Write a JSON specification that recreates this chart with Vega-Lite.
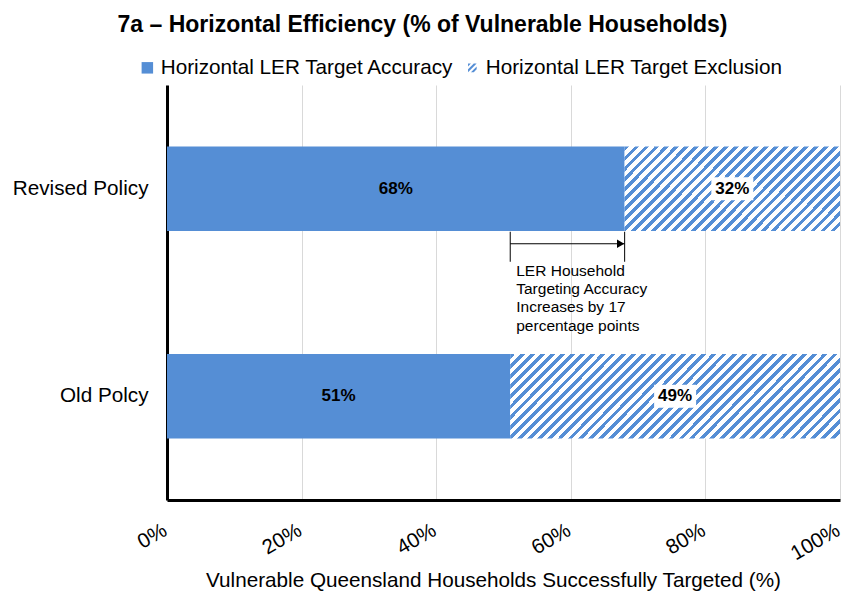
{
  "$schema": "https://vega.github.io/schema/vega-lite/v6.json",
  "width": 673,
  "height": 415,
  "autosize": {"type": "none"},
  "padding": {"left": 167, "top": 85, "right": 5, "bottom": 94},
  "background": "white",
  "config": {
    "font": "Liberation Sans",
    "view": {"stroke": null},
    "axis": {"labelFont": "Liberation Sans", "titleFont": "Liberation Sans"},
    "legend": {"labelFont": "Liberation Sans"}
  },
  "title": {
    "text": "7a – Horizontal Efficiency (% of Vulnerable Households)",
    "font": "Liberation Sans",
    "fontSize": 23,
    "fontWeight": "bold",
    "color": "black",
    "anchor": "middle",
    "frame": "group",
    "dx": -81,
    "offset": 20
  },
  "datasets": {
    "bars": [
      {"policy": "Revised Policy", "category": "Horizontal LER Target Accuracy", "value": 0.68},
      {"policy": "Revised Policy", "category": "Horizontal LER Target Exclusion", "value": 0.32},
      {"policy": "Old Polcy", "category": "Horizontal LER Target Accuracy", "value": 0.51},
      {"policy": "Old Polcy", "category": "Horizontal LER Target Exclusion", "value": 0.49}
    ],
    "note": [
      {"policy": "Revised Policy", "from": 0.51, "to": 0.68, "note": "LER Household\nTargeting Accuracy\nIncreases by 17\npercentage points"}
    ]
  },
  "data": {"name": "bars"},
  "encoding": {
    "y": {
      "field": "policy",
      "type": "nominal",
      "sort": ["Revised Policy", "Old Polcy"],
      "scale": {"paddingInner": 0.592, "paddingOuter": 0.296},
      "axis": {
        "title": null,
        "domainColor": "black",
        "domainWidth": 3,
        "ticks": false,
        "labelFontSize": 20.7,
        "labelColor": "black",
        "labelPadding": 19
      }
    }
  },
  "layer": [
    {
      "transform": [{"filter": "datum.category === 'Horizontal LER Target Accuracy'"}],
      "mark": {"type": "bar", "color": "#558ed5"},
      "encoding": {
        "x": {
          "field": "value",
          "type": "quantitative",
          "scale": {"domain": [0, 1], "nice": false},
          "axis": {
            "values": [0, 0.2, 0.4, 0.6, 0.8, 1],
            "format": ".0%",
            "grid": true,
            "gridColor": "#d9d9d9",
            "gridWidth": 1,
            "domainColor": "black",
            "domainWidth": 3,
            "ticks": false,
            "labelAngle": -30,
            "labelFontSize": 20.7,
            "labelColor": "black",
            "labelPadding": 20,
            "labelOffset": -7,
            "labelOverlap": false,
            "labelBound": false,
            "labelFlush": false,
            "title": "Vulnerable Queensland Households Successfully Targeted (%)",
            "titleFontSize": 20.7,
            "titleFontWeight": "normal",
            "titleColor": "black",
            "titleX": 326,
            "titleY": 80,
            "titleBaseline": "middle",
            "titleAlign": "center"
          }
        }
      }
    },
    {
      "mark": {"type": "point", "filled": true, "color": "#558ed5", "opacity": 0},
      "encoding": {
        "x": {"field": "value", "type": "quantitative"},
        "shape": {
          "field": "category",
          "type": "nominal",
          "scale": {
            "domain": ["Horizontal LER Target Accuracy", "Horizontal LER Target Exclusion"],
            "range": ["square", "M-0.75,-0.75L-0.25,-0.75L-0.75,-0.25Z M0.25,-0.75L0.75,-0.75L-0.75,0.75L-0.75,0.25Z M0.75,-0.25L0.75,0.25L0.25,0.75L-0.25,0.75Z"]
          },
          "legend": {
            "orient": "none",
            "legendX": -30,
            "legendY": -28,
            "direction": "horizontal",
            "title": null,
            "labelFontSize": 20.7,
            "labelColor": "black",
            "labelLimit": 0,
            "symbolSize": 132,
            "symbolOpacity": 1,
            "symbolFillColor": "#558ed5",
            "symbolStrokeWidth": 0,
            "labelOffset": 3,
            "columnPadding": 8,
            "padding": 0
          }
        }
      }
    },
    {
      "transform": [
        {"stack": "value", "groupby": ["policy"], "sort": [{"field": "category"}], "as": ["x0", "x1"]},
        {"filter": "datum.category === 'Horizontal LER Target Exclusion' && datum.policy === 'Revised Policy'"}
      ],
      "mark": {
        "type": "bar",
        "fill": {"gradient": "linear", "x1": 0, "y1": 0, "x2": 1.2065, "y2": 0.4705, "stops": [
          {"offset": 0, "color": "#558ed5"}, {"offset": 0.016, "color": "#558ed5"}, {"offset": 0.016, "color": "#ffffff"}, {"offset": 0.0333, "color": "#ffffff"},
          {"offset": 0.0333, "color": "#558ed5"}, {"offset": 0.0493, "color": "#558ed5"}, {"offset": 0.0493, "color": "#ffffff"}, {"offset": 0.0667, "color": "#ffffff"},
          {"offset": 0.0667, "color": "#558ed5"}, {"offset": 0.0827, "color": "#558ed5"}, {"offset": 0.0827, "color": "#ffffff"}, {"offset": 0.1, "color": "#ffffff"},
          {"offset": 0.1, "color": "#558ed5"}, {"offset": 0.116, "color": "#558ed5"}, {"offset": 0.116, "color": "#ffffff"}, {"offset": 0.1333, "color": "#ffffff"},
          {"offset": 0.1333, "color": "#558ed5"}, {"offset": 0.1493, "color": "#558ed5"}, {"offset": 0.1493, "color": "#ffffff"}, {"offset": 0.1667, "color": "#ffffff"},
          {"offset": 0.1667, "color": "#558ed5"}, {"offset": 0.1827, "color": "#558ed5"}, {"offset": 0.1827, "color": "#ffffff"}, {"offset": 0.2, "color": "#ffffff"},
          {"offset": 0.2, "color": "#558ed5"}, {"offset": 0.216, "color": "#558ed5"}, {"offset": 0.216, "color": "#ffffff"}, {"offset": 0.2333, "color": "#ffffff"},
          {"offset": 0.2333, "color": "#558ed5"}, {"offset": 0.2493, "color": "#558ed5"}, {"offset": 0.2493, "color": "#ffffff"}, {"offset": 0.2667, "color": "#ffffff"},
          {"offset": 0.2667, "color": "#558ed5"}, {"offset": 0.2827, "color": "#558ed5"}, {"offset": 0.2827, "color": "#ffffff"}, {"offset": 0.3, "color": "#ffffff"},
          {"offset": 0.3, "color": "#558ed5"}, {"offset": 0.316, "color": "#558ed5"}, {"offset": 0.316, "color": "#ffffff"}, {"offset": 0.3333, "color": "#ffffff"},
          {"offset": 0.3333, "color": "#558ed5"}, {"offset": 0.3493, "color": "#558ed5"}, {"offset": 0.3493, "color": "#ffffff"}, {"offset": 0.3667, "color": "#ffffff"},
          {"offset": 0.3667, "color": "#558ed5"}, {"offset": 0.3827, "color": "#558ed5"}, {"offset": 0.3827, "color": "#ffffff"}, {"offset": 0.4, "color": "#ffffff"},
          {"offset": 0.4, "color": "#558ed5"}, {"offset": 0.416, "color": "#558ed5"}, {"offset": 0.416, "color": "#ffffff"}, {"offset": 0.4333, "color": "#ffffff"},
          {"offset": 0.4333, "color": "#558ed5"}, {"offset": 0.4493, "color": "#558ed5"}, {"offset": 0.4493, "color": "#ffffff"}, {"offset": 0.4667, "color": "#ffffff"},
          {"offset": 0.4667, "color": "#558ed5"}, {"offset": 0.4827, "color": "#558ed5"}, {"offset": 0.4827, "color": "#ffffff"}, {"offset": 0.5, "color": "#ffffff"},
          {"offset": 0.5, "color": "#558ed5"}, {"offset": 0.516, "color": "#558ed5"}, {"offset": 0.516, "color": "#ffffff"}, {"offset": 0.5333, "color": "#ffffff"},
          {"offset": 0.5333, "color": "#558ed5"}, {"offset": 0.5493, "color": "#558ed5"}, {"offset": 0.5493, "color": "#ffffff"}, {"offset": 0.5667, "color": "#ffffff"},
          {"offset": 0.5667, "color": "#558ed5"}, {"offset": 0.5827, "color": "#558ed5"}, {"offset": 0.5827, "color": "#ffffff"}, {"offset": 0.6, "color": "#ffffff"},
          {"offset": 0.6, "color": "#558ed5"}, {"offset": 0.616, "color": "#558ed5"}, {"offset": 0.616, "color": "#ffffff"}, {"offset": 0.6333, "color": "#ffffff"},
          {"offset": 0.6333, "color": "#558ed5"}, {"offset": 0.6493, "color": "#558ed5"}, {"offset": 0.6493, "color": "#ffffff"}, {"offset": 0.6667, "color": "#ffffff"},
          {"offset": 0.6667, "color": "#558ed5"}, {"offset": 0.6827, "color": "#558ed5"}, {"offset": 0.6827, "color": "#ffffff"}, {"offset": 0.7, "color": "#ffffff"},
          {"offset": 0.7, "color": "#558ed5"}, {"offset": 0.716, "color": "#558ed5"}, {"offset": 0.716, "color": "#ffffff"}, {"offset": 0.7333, "color": "#ffffff"},
          {"offset": 0.7333, "color": "#558ed5"}, {"offset": 0.7493, "color": "#558ed5"}, {"offset": 0.7493, "color": "#ffffff"}, {"offset": 0.7667, "color": "#ffffff"},
          {"offset": 0.7667, "color": "#558ed5"}, {"offset": 0.7827, "color": "#558ed5"}, {"offset": 0.7827, "color": "#ffffff"}, {"offset": 0.8, "color": "#ffffff"},
          {"offset": 0.8, "color": "#558ed5"}, {"offset": 0.816, "color": "#558ed5"}, {"offset": 0.816, "color": "#ffffff"}, {"offset": 0.8333, "color": "#ffffff"},
          {"offset": 0.8333, "color": "#558ed5"}, {"offset": 0.8493, "color": "#558ed5"}, {"offset": 0.8493, "color": "#ffffff"}, {"offset": 0.8667, "color": "#ffffff"},
          {"offset": 0.8667, "color": "#558ed5"}, {"offset": 0.8827, "color": "#558ed5"}, {"offset": 0.8827, "color": "#ffffff"}, {"offset": 0.9, "color": "#ffffff"},
          {"offset": 0.9, "color": "#558ed5"}, {"offset": 0.916, "color": "#558ed5"}, {"offset": 0.916, "color": "#ffffff"}, {"offset": 0.9333, "color": "#ffffff"},
          {"offset": 0.9333, "color": "#558ed5"}, {"offset": 0.9493, "color": "#558ed5"}, {"offset": 0.9493, "color": "#ffffff"}, {"offset": 0.9667, "color": "#ffffff"},
          {"offset": 0.9667, "color": "#558ed5"}, {"offset": 0.9827, "color": "#558ed5"}, {"offset": 0.9827, "color": "#ffffff"}, {"offset": 1, "color": "#ffffff"}
        ]}
      },
      "encoding": {
        "x": {"field": "x0", "type": "quantitative"},
        "x2": {"field": "x1"}
      }
    },
    {
      "transform": [
        {"stack": "value", "groupby": ["policy"], "sort": [{"field": "category"}], "as": ["x0", "x1"]},
        {"filter": "datum.category === 'Horizontal LER Target Exclusion' && datum.policy === 'Old Polcy'"}
      ],
      "mark": {
        "type": "bar",
        "fill": {"gradient": "linear", "x1": 0, "y1": 0, "x2": 1.1782, "y2": 0.3001, "stops": [
          {"offset": 0, "color": "#558ed5"}, {"offset": 0.0117, "color": "#558ed5"}, {"offset": 0.0117, "color": "#ffffff"}, {"offset": 0.0244, "color": "#ffffff"},
          {"offset": 0.0244, "color": "#558ed5"}, {"offset": 0.0361, "color": "#558ed5"}, {"offset": 0.0361, "color": "#ffffff"}, {"offset": 0.0488, "color": "#ffffff"},
          {"offset": 0.0488, "color": "#558ed5"}, {"offset": 0.0605, "color": "#558ed5"}, {"offset": 0.0605, "color": "#ffffff"}, {"offset": 0.0732, "color": "#ffffff"},
          {"offset": 0.0732, "color": "#558ed5"}, {"offset": 0.0849, "color": "#558ed5"}, {"offset": 0.0849, "color": "#ffffff"}, {"offset": 0.0976, "color": "#ffffff"},
          {"offset": 0.0976, "color": "#558ed5"}, {"offset": 0.1093, "color": "#558ed5"}, {"offset": 0.1093, "color": "#ffffff"}, {"offset": 0.122, "color": "#ffffff"},
          {"offset": 0.122, "color": "#558ed5"}, {"offset": 0.1337, "color": "#558ed5"}, {"offset": 0.1337, "color": "#ffffff"}, {"offset": 0.1463, "color": "#ffffff"},
          {"offset": 0.1463, "color": "#558ed5"}, {"offset": 0.158, "color": "#558ed5"}, {"offset": 0.158, "color": "#ffffff"}, {"offset": 0.1707, "color": "#ffffff"},
          {"offset": 0.1707, "color": "#558ed5"}, {"offset": 0.1824, "color": "#558ed5"}, {"offset": 0.1824, "color": "#ffffff"}, {"offset": 0.1951, "color": "#ffffff"},
          {"offset": 0.1951, "color": "#558ed5"}, {"offset": 0.2068, "color": "#558ed5"}, {"offset": 0.2068, "color": "#ffffff"}, {"offset": 0.2195, "color": "#ffffff"},
          {"offset": 0.2195, "color": "#558ed5"}, {"offset": 0.2312, "color": "#558ed5"}, {"offset": 0.2312, "color": "#ffffff"}, {"offset": 0.2439, "color": "#ffffff"},
          {"offset": 0.2439, "color": "#558ed5"}, {"offset": 0.2556, "color": "#558ed5"}, {"offset": 0.2556, "color": "#ffffff"}, {"offset": 0.2683, "color": "#ffffff"},
          {"offset": 0.2683, "color": "#558ed5"}, {"offset": 0.28, "color": "#558ed5"}, {"offset": 0.28, "color": "#ffffff"}, {"offset": 0.2927, "color": "#ffffff"},
          {"offset": 0.2927, "color": "#558ed5"}, {"offset": 0.3044, "color": "#558ed5"}, {"offset": 0.3044, "color": "#ffffff"}, {"offset": 0.3171, "color": "#ffffff"},
          {"offset": 0.3171, "color": "#558ed5"}, {"offset": 0.3288, "color": "#558ed5"}, {"offset": 0.3288, "color": "#ffffff"}, {"offset": 0.3415, "color": "#ffffff"},
          {"offset": 0.3415, "color": "#558ed5"}, {"offset": 0.3532, "color": "#558ed5"}, {"offset": 0.3532, "color": "#ffffff"}, {"offset": 0.3659, "color": "#ffffff"},
          {"offset": 0.3659, "color": "#558ed5"}, {"offset": 0.3776, "color": "#558ed5"}, {"offset": 0.3776, "color": "#ffffff"}, {"offset": 0.3902, "color": "#ffffff"},
          {"offset": 0.3902, "color": "#558ed5"}, {"offset": 0.4019, "color": "#558ed5"}, {"offset": 0.4019, "color": "#ffffff"}, {"offset": 0.4146, "color": "#ffffff"},
          {"offset": 0.4146, "color": "#558ed5"}, {"offset": 0.4263, "color": "#558ed5"}, {"offset": 0.4263, "color": "#ffffff"}, {"offset": 0.439, "color": "#ffffff"},
          {"offset": 0.439, "color": "#558ed5"}, {"offset": 0.4507, "color": "#558ed5"}, {"offset": 0.4507, "color": "#ffffff"}, {"offset": 0.4634, "color": "#ffffff"},
          {"offset": 0.4634, "color": "#558ed5"}, {"offset": 0.4751, "color": "#558ed5"}, {"offset": 0.4751, "color": "#ffffff"}, {"offset": 0.4878, "color": "#ffffff"},
          {"offset": 0.4878, "color": "#558ed5"}, {"offset": 0.4995, "color": "#558ed5"}, {"offset": 0.4995, "color": "#ffffff"}, {"offset": 0.5122, "color": "#ffffff"},
          {"offset": 0.5122, "color": "#558ed5"}, {"offset": 0.5239, "color": "#558ed5"}, {"offset": 0.5239, "color": "#ffffff"}, {"offset": 0.5366, "color": "#ffffff"},
          {"offset": 0.5366, "color": "#558ed5"}, {"offset": 0.5483, "color": "#558ed5"}, {"offset": 0.5483, "color": "#ffffff"}, {"offset": 0.561, "color": "#ffffff"},
          {"offset": 0.561, "color": "#558ed5"}, {"offset": 0.5727, "color": "#558ed5"}, {"offset": 0.5727, "color": "#ffffff"}, {"offset": 0.5854, "color": "#ffffff"},
          {"offset": 0.5854, "color": "#558ed5"}, {"offset": 0.5971, "color": "#558ed5"}, {"offset": 0.5971, "color": "#ffffff"}, {"offset": 0.6098, "color": "#ffffff"},
          {"offset": 0.6098, "color": "#558ed5"}, {"offset": 0.6215, "color": "#558ed5"}, {"offset": 0.6215, "color": "#ffffff"}, {"offset": 0.6341, "color": "#ffffff"},
          {"offset": 0.6341, "color": "#558ed5"}, {"offset": 0.6458, "color": "#558ed5"}, {"offset": 0.6458, "color": "#ffffff"}, {"offset": 0.6585, "color": "#ffffff"},
          {"offset": 0.6585, "color": "#558ed5"}, {"offset": 0.6702, "color": "#558ed5"}, {"offset": 0.6702, "color": "#ffffff"}, {"offset": 0.6829, "color": "#ffffff"},
          {"offset": 0.6829, "color": "#558ed5"}, {"offset": 0.6946, "color": "#558ed5"}, {"offset": 0.6946, "color": "#ffffff"}, {"offset": 0.7073, "color": "#ffffff"},
          {"offset": 0.7073, "color": "#558ed5"}, {"offset": 0.719, "color": "#558ed5"}, {"offset": 0.719, "color": "#ffffff"}, {"offset": 0.7317, "color": "#ffffff"},
          {"offset": 0.7317, "color": "#558ed5"}, {"offset": 0.7434, "color": "#558ed5"}, {"offset": 0.7434, "color": "#ffffff"}, {"offset": 0.7561, "color": "#ffffff"},
          {"offset": 0.7561, "color": "#558ed5"}, {"offset": 0.7678, "color": "#558ed5"}, {"offset": 0.7678, "color": "#ffffff"}, {"offset": 0.7805, "color": "#ffffff"},
          {"offset": 0.7805, "color": "#558ed5"}, {"offset": 0.7922, "color": "#558ed5"}, {"offset": 0.7922, "color": "#ffffff"}, {"offset": 0.8049, "color": "#ffffff"},
          {"offset": 0.8049, "color": "#558ed5"}, {"offset": 0.8166, "color": "#558ed5"}, {"offset": 0.8166, "color": "#ffffff"}, {"offset": 0.8293, "color": "#ffffff"},
          {"offset": 0.8293, "color": "#558ed5"}, {"offset": 0.841, "color": "#558ed5"}, {"offset": 0.841, "color": "#ffffff"}, {"offset": 0.8537, "color": "#ffffff"},
          {"offset": 0.8537, "color": "#558ed5"}, {"offset": 0.8654, "color": "#558ed5"}, {"offset": 0.8654, "color": "#ffffff"}, {"offset": 0.878, "color": "#ffffff"},
          {"offset": 0.878, "color": "#558ed5"}, {"offset": 0.8897, "color": "#558ed5"}, {"offset": 0.8897, "color": "#ffffff"}, {"offset": 0.9024, "color": "#ffffff"},
          {"offset": 0.9024, "color": "#558ed5"}, {"offset": 0.9141, "color": "#558ed5"}, {"offset": 0.9141, "color": "#ffffff"}, {"offset": 0.9268, "color": "#ffffff"},
          {"offset": 0.9268, "color": "#558ed5"}, {"offset": 0.9385, "color": "#558ed5"}, {"offset": 0.9385, "color": "#ffffff"}, {"offset": 0.9512, "color": "#ffffff"},
          {"offset": 0.9512, "color": "#558ed5"}, {"offset": 0.9629, "color": "#558ed5"}, {"offset": 0.9629, "color": "#ffffff"}, {"offset": 0.9756, "color": "#ffffff"},
          {"offset": 0.9756, "color": "#558ed5"}, {"offset": 0.9873, "color": "#558ed5"}, {"offset": 0.9873, "color": "#ffffff"}, {"offset": 1, "color": "#ffffff"}
        ]}
      },
      "encoding": {
        "x": {"field": "x0", "type": "quantitative"},
        "x2": {"field": "x1"}
      }
    },
    {
      "transform": [
        {"stack": "value", "groupby": ["policy"], "sort": [{"field": "category"}], "as": ["x0", "x1"]},
        {"filter": "datum.category === 'Horizontal LER Target Exclusion'"},
        {"fold": ["x0", "x1"], "as": ["edge", "pos"]}
      ],
      "mark": {"type": "point", "shape": "M-1,-0.55H1V0.55H-1Z", "size": 1764, "filled": true, "fill": "#ffffff", "opacity": 1, "strokeWidth": 0},
      "encoding": {
        "x": {"aggregate": "mean", "field": "pos", "type": "quantitative"},
        "detail": {"field": "category", "type": "nominal"}
      }
    },
    {
      "transform": [
        {"stack": "value", "groupby": ["policy"], "sort": [{"field": "category"}], "as": ["x0", "x1"]},
        {"fold": ["x0", "x1"], "as": ["edge", "pos"]}
      ],
      "mark": {"type": "text", "fontSize": 17, "fontWeight": "bold", "color": "black", "baseline": "middle", "align": "center"},
      "encoding": {
        "x": {"aggregate": "mean", "field": "pos", "type": "quantitative"},
        "detail": {"field": "category", "type": "nominal"},
        "text": {"field": "value", "type": "quantitative", "format": ".0%"}
      }
    },
    {
      "data": {"name": "note"},
      "mark": {"type": "rule", "color": "black", "strokeWidth": 1, "yOffset": 55},
      "encoding": {
        "x": {"field": "from", "type": "quantitative"},
        "x2": {"field": "to"}
      }
    },
    {
      "data": {"name": "note"},
      "mark": {"type": "point", "shape": "triangle-right", "size": 70, "filled": true, "color": "black", "opacity": 1, "xOffset": -4, "yOffset": 55},
      "encoding": {
        "x": {"field": "to", "type": "quantitative"}
      }
    },
    {
      "data": {"name": "note"},
      "mark": {"type": "tick", "color": "black", "thickness": 1, "size": 30, "yOffset": 58, "opacity": 1},
      "encoding": {
        "x": {"field": "from", "type": "quantitative"}
      }
    },
    {
      "data": {"name": "note"},
      "mark": {"type": "tick", "color": "black", "thickness": 1, "size": 30, "yOffset": 58, "opacity": 1},
      "encoding": {
        "x": {"field": "to", "type": "quantitative"}
      }
    },
    {
      "data": {"name": "note"},
      "mark": {"type": "text", "align": "left", "baseline": "top", "dx": 6, "yOffset": 75, "fontSize": 15.5, "lineHeight": 18.3, "lineBreak": "\n", "color": "black"},
      "encoding": {
        "x": {"field": "from", "type": "quantitative"},
        "text": {"field": "note", "type": "nominal"}
      }
    }
  ]
}
